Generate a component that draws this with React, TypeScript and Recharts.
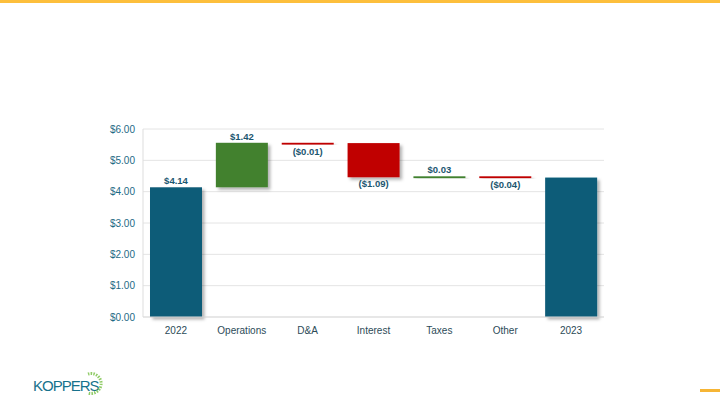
import React from "react";
import {
  BarChart,
  Bar,
  XAxis,
  YAxis,
  CartesianGrid,
  Cell,
  LabelList,
} from "recharts";

// EPS bridge 2022 -> 2023
const categories = ["2022", "Operations", "D&A", "Interest", "Taxes", "Other", "2023"];
const changes = [4.14, 1.42, -0.01, -1.09, 0.03, -0.04, 4.45];
const kinds = ["total", "delta", "delta", "delta", "delta", "delta", "total"];
const yTicks = [0, 1, 2, 3, 4, 5, 6];

const BLUE = "#0F5C78";
const GREEN = "#42812F";
const RED = "#C00000";

const fmtMoney = (v: number) => `$${v.toFixed(2)}`;
const fmtChange = (v: number) => (v < 0 ? `(${fmtMoney(-v)})` : fmtMoney(v));

// build invisible base + visible step for the waterfall
let running = 0;
const rows = categories.map((name, i) => {
  const v = changes[i];
  if (kinds[i] === "total") {
    running = v;
    return { name, base: 0, step: v, change: v, kind: "total" };
  }
  const start = running;
  running = start + v;
  return {
    name,
    base: Math.min(start, running),
    step: Math.abs(v),
    change: v,
    kind: "delta",
  };
});

const colorFor = (r: (typeof rows)[number]) =>
  r.kind === "total" ? BLUE : r.change >= 0 ? GREEN : RED;

const StepShape = (props: any) => {
  const { x, y, width, height, fill } = props;
  const h = Math.max(height, 1.8);
  return <rect x={x} y={y} width={width} height={h} fill={fill} filter="url(#barShadow)" />;
};

const StepLabel = (props: any) => {
  const { x, y, width, height, index } = props;
  const r = rows[index];
  if (index === rows.length - 1) return null;
  const cx = x + width / 2;
  const neg = r.change < 0;
  const ty = neg ? y + Math.max(height, 2) + 10 : y - 3;
  return (
    <text
      x={cx}
      y={ty}
      textAnchor="middle"
      fontSize={9.5}
      fontWeight="bold"
      fill="#1B5670"
      fontFamily="'Liberation Sans', Arial, sans-serif"
    >
      {fmtChange(r.change)}
    </text>
  );
};

export default function App() {
  return (
    <div
      style={{
        position: "fixed",
        left: 0,
        top: 0,
        width: 720,
        height: 405,
        background: "#FFFFFF",
        overflow: "hidden",
        fontFamily: "'Liberation Sans', Arial, sans-serif",
      }}
    >
      {/* top accent strip */}
      <div style={{ position: "absolute", left: 0, top: 0, width: 720, height: 3, background: "#FDBF3C" }} />

      <div style={{ position: "absolute", left: 0, top: 0 }}>
        <BarChart
          width={720}
          height={405}
          data={rows}
          margin={{ top: 129, right: 116, left: 100, bottom: 68 }}
          barSize={52}
        >
          <defs>
            <filter id="barShadow" x="-10%" y="-10%" width="130%" height="130%">
              <feDropShadow dx="2.5" dy="2.5" stdDeviation="1.5" floodColor="#000" floodOpacity="0.3" />
            </filter>
          </defs>
          <CartesianGrid stroke="#E4E4E4" vertical={false} />
          <XAxis
            dataKey="name"
            tickLine={false}
            axisLine={{ stroke: "#DDDDDD" }}
            tick={{ fill: "#2C4B58", fontSize: 10 }}
            tickMargin={4}
            height={20}
          />
          <YAxis
            domain={[0, 6]}
            ticks={yTicks}
            tickFormatter={fmtMoney}
            tickLine={false}
            axisLine={{ stroke: "#DDDDDD" }}
            tick={{ fill: "#1E6A85", fontSize: 10 }}
            width={43}
            tickMargin={2}
          />
          <Bar dataKey="base" stackId="w" fill="transparent" isAnimationActive={false} />
          <Bar dataKey="step" stackId="w" shape={<StepShape />} isAnimationActive={false}>
            {rows.map((r, i) => (
              <Cell key={i} fill={colorFor(r)} />
            ))}
            <LabelList dataKey="step" content={<StepLabel />} />
          </Bar>
        </BarChart>
      </div>

      {/* logo */}
      <svg style={{ position: "absolute", left: 0, top: 360 }} width={140} height={45}>
        <text
          x={33}
          y={31}
          fontSize={15}
          fill="#17728C"
          letterSpacing={-1}
          fontFamily="'Liberation Sans Narrow', 'Liberation Sans', Arial, sans-serif"
        >
          KOPPERS
        </text>
        <path
          d="M 88 14 A 10 10 0 1 1 88 33"
          fill="none"
          stroke="#7DC24B"
          strokeWidth={3}
          strokeDasharray="1.5 1.2"
          opacity={0.85}
        />
      </svg>

      {/* bottom-right accent */}
      <div style={{ position: "absolute", left: 700, top: 389, width: 20, height: 3, background: "#F6B535" }} />
    </div>
  );
}
